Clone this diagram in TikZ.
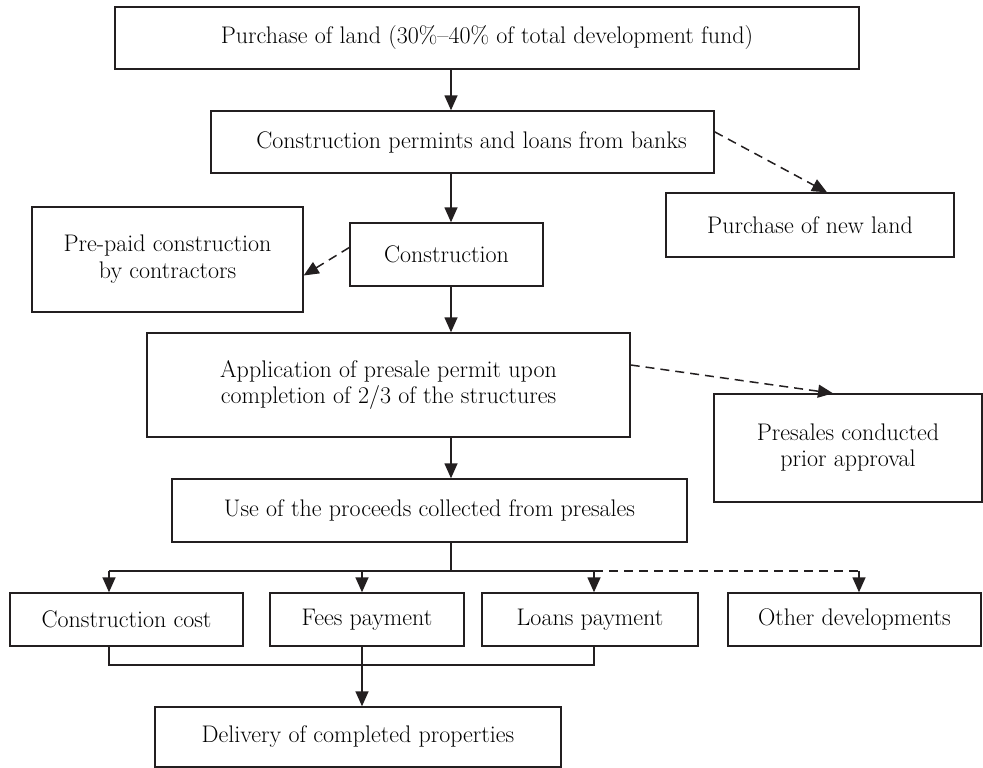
\documentclass[tikz,border=0pt]{standalone}
\usetikzlibrary{arrows.meta,calc}
\definecolor{ink}{HTML}{231F20}
\begin{document}
\begin{tikzpicture}[x=1pt,y=-1pt,
  box/.style={draw=ink,line width=1.4pt,rectangle,inner sep=0pt,align=center,
    font=\fontsize{24}{26}\selectfont,text=black},
  arr/.style={draw=ink,line width=1.5pt,-{Triangle[length=15pt,width=13pt]}},
  dasharr/.style={draw=ink,line width=1.5pt,dash pattern=on 9pt off 6pt,-{Triangle[length=15pt,width=13pt]}},
  plain/.style={draw=ink,line width=1.5pt},
  dline/.style={draw=ink,line width=1.5pt,dash pattern=on 9pt off 6pt}]
\useasboundingbox (0,0) rectangle (983,768);
\node[box,minimum width=744pt,minimum height=62pt] (b1) at (487,38) {Purchase of land (30\%--40\% of total development fund)};
\node[box,minimum width=503pt,minimum height=62pt] (b2) at (462.5,142) {\hspace*{18pt}Construction permints and loans from banks};
\node[box,minimum width=288pt,minimum height=64pt] (b3) at (810,225) {Purchase of new land};
\node[box,minimum width=271pt,minimum height=105pt,font=\fontsize{24}{27}\selectfont] (b4) at (167.5,259.5) {Pre-paid construction\\by contractors};
\node[box,minimum width=193pt,minimum height=63pt] (b5) at (446.5,254.5) {Construction};
\node[box,minimum width=483pt,minimum height=104pt] (b6) at (388.5,385) {Application of presale permit upon\\completion of 2/3 of the structures};
\node[box,minimum width=268pt,minimum height=108pt] (b7) at (848,448) {Presales conducted\\prior approval};
\node[box,minimum width=515pt,minimum height=63pt] (b8) at (429.5,510.5) {Use of the proceeds collected from presales};
\node[box,minimum width=233pt,minimum height=53pt] (b9) at (126.5,619.5) {Construction cost};
\node[box,minimum width=194pt,minimum height=53pt] (b10) at (367,619.5) {Fees payment};
\node[box,minimum width=216pt,minimum height=53pt] (b11) at (590,619.5) {Loans payment};
\node[box,minimum width=253pt,minimum height=53pt] (b12) at (854.5,619.5) {Other developments};
\node[box,minimum width=406pt,minimum height=60pt] (b13) at (358,737) {Delivery of completed properties};
% spine
\coordinate (spine) at (451,0);
\draw[arr] (b1.south -| spine) -- (b2.north -| spine);
\draw[arr] (b2.south -| spine) -- (b5.north -| spine);
\draw[arr] (b5.south -| spine) -- (b6.north -| spine);
\draw[arr] (b6.south -| spine) -- (b8.north -| spine);
% dashed side arrows
\draw[dasharr] ($(b2.north east)!0.34!(b2.south east)$) -- ([xshift=17pt]b3.north);
\draw[dasharr] ([yshift=7pt]b5.west) -- ([yshift=-16pt]b4.east);
\draw[dasharr] ([yshift=20pt]b6.east) -- ([xshift=-15pt]b7.north);
% distribution bus
\coordinate (bus) at (451,571);
\coordinate (t9) at (109,571);
\coordinate (t10) at (362,571);
\coordinate (t11) at (594,571);
\coordinate (t12) at (859,571);
\draw[plain] (b8.south -| bus) -- (bus);
\draw[plain] (t9) -- (t11);
\draw[dline] (t11) -- (t12);
\draw[arr] (t9) -- (t9 |- b9.north);
\draw[arr] (t10) -- (t10 |- b10.north);
\draw[arr] (t11) -- (t11 |- b11.north);
\draw[dasharr] (t12) -- (t12 |- b12.north);
% collection bus
\coordinate (m9) at (109,665);
\coordinate (m11) at (594,665);
\draw[plain] (b9.south -| m9) -- (m9) -- (m11) -- (b11.south -| m11);
\draw[arr] (b10.south -| t10) -- (b13.north -| t10);
\end{tikzpicture}
\end{document}
